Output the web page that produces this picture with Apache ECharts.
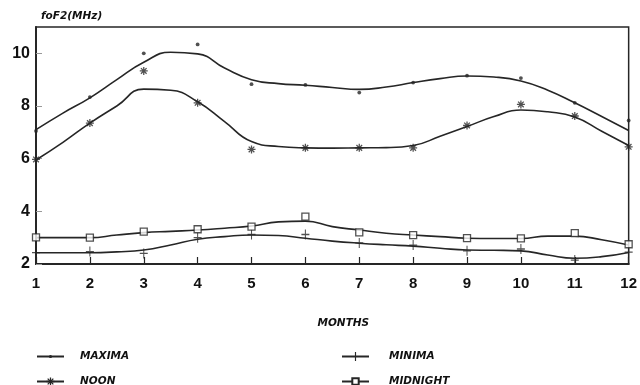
<!DOCTYPE html>
<html>
<head>
<meta charset="utf-8">
<script src="https://cdn.jsdelivr.net/npm/echarts@6/dist/echarts.min.js"></script>
<style>html,body{margin:0;padding:0;background:#fff}#c{width:640px;height:385px}</style>
</head>
<body>
<div id="c"></div>
<script>
// ---- data ----
const months = [1, 2, 3, 4, 5, 6, 7, 8, 9, 10, 11, 12];
const maximaObs   = [7.05, 8.34, 10.0, 10.34, 8.83, 8.8, 8.51, 8.89, 9.15, 9.06, 8.12, 7.45];
const noonObs     = [5.97, 7.35, 9.33, 8.12, 6.35, 6.41, 6.41, 6.41, 7.26, 8.06, 7.62, 6.45];
const minimaObs   = [2.43, 2.47, 2.4, 3.0, 3.12, 3.12, 2.8, 2.72, 2.5, 2.57, 2.15, 2.45];
const midnightObs = [3.01, 3.0, 3.23, 3.32, 3.42, 3.8, 3.2, 3.1, 2.98, 2.97, 3.17, 2.75];

// fitted curves, read at half-month steps
const curveMonths = [1, 1.5, 2, 2.5, 3, 3.5, 4, 4.5, 5, 5.5, 6, 6.5, 7, 7.5, 8, 8.5, 9, 9.5, 10, 10.5, 11, 11.5, 12];
const maximaCurve   = [7.1, 7.73, 8.31, 9.0, 9.66, 10.04, 9.98, 9.44, 9.0, 8.85, 8.79, 8.70, 8.63, 8.72, 8.89, 9.04, 9.14, 9.1, 8.95, 8.6, 8.12, 7.6, 7.07];
const noonCurve     = [5.95, 6.62, 7.35, 8.0, 8.64, 8.6, 8.16, 7.41, 6.65, 6.46, 6.41, 6.40, 6.41, 6.42, 6.5, 6.85, 7.22, 7.6, 7.85, 7.78, 7.58, 7.04, 6.5];
const minimaCurve   = [2.43, 2.43, 2.43, 2.46, 2.53, 2.72, 2.94, 3.04, 3.1, 3.08, 2.98, 2.87, 2.79, 2.73, 2.68, 2.6, 2.53, 2.52, 2.5, 2.34, 2.22, 2.28, 2.44];
const midnightCurve = [3.0, 3.0, 3.0, 3.1, 3.19, 3.24, 3.29, 3.36, 3.44, 3.6, 3.63, 3.42, 3.29, 3.17, 3.1, 3.04, 2.98, 2.97, 2.97, 3.06, 3.06, 2.92, 2.72];

const yTicks = [2, 4, 6, 8, 10];
const names = ['MAXIMA', 'NOON', 'MINIMA', 'MIDNIGHT'];

// ---- styling ----
const INK = '#262626';
const ASTER = 'path://M4.2,0H5.8V10H4.2Z M0,4.2H10V5.8H0Z M0.9,2.03L2.03,0.9L9.1,7.97L7.97,9.1Z M7.97,0.9L9.1,2.03L2.03,9.1L0.9,7.97Z';
const PLUS = 'path://M4.35,0H5.65V10H4.35Z M0,4.35H10V5.65H0Z';
const symbols = ['circle', ASTER, PLUS, 'rect'];
const symSizes = [3.8, 8, [8, 10], 7];
const obs = [maximaObs, noonObs, minimaObs, midnightObs];
const curves = [maximaCurve, noonCurve, minimaCurve, midnightCurve];

const pair = (xs, ys) => xs.map((x, i) => [x, ys[i]]);

const series = [];
names.forEach((n, k) => {
  series.push({
    name: n, type: 'line', smooth: 0.5, showSymbol: false,
    symbol: symbols[k], symbolSize: symSizes[k],
    data: pair(curveMonths, curves[k]),
    lineStyle: { color: INK, width: 1.6 },
    itemStyle: k === 3 ? { color: '#fff', borderColor: INK, borderWidth: 1.3 } : { color: INK },
    z: 3
  });
});
names.forEach((n, k) => {
  series.push({
    name: n, type: 'scatter', symbol: symbols[k], symbolSize: symSizes[k],
    data: pair(months, obs[k]),
    itemStyle: k === 3 ? { color: '#fff', borderColor: INK, borderWidth: 1.3 } : { color: INK },
    z: 4
  });
});

function legText(pad) {
  return { color: '#111', fontFamily: 'DejaVu Sans', fontStyle: 'italic', fontWeight: 'bold', fontSize: 10.5, padding: [0, 0, 0, pad] };
}
function leg(name, left, top, ih, pad) {
  return { data: [name], left: left, top: top, orient: 'horizontal', padding: 0, itemWidth: 27, itemHeight: ih,
    textStyle: legText(pad), selectedMode: false };
}

const chart = echarts.init(document.getElementById('c'), null, { renderer: 'canvas' });
chart.setOption({
  animation: false,
  backgroundColor: '#fff',
  title: { text: 'foF2(MHz)', left: 41, top: 11, padding: 0,
    textStyle: { fontFamily: 'DejaVu Sans', fontStyle: 'italic', fontWeight: 'bold', fontSize: 10.5, color: '#111' } },
  grid: { left: 36, right: 8, top: 27, bottom: 121, show: true, borderColor: INK, borderWidth: 1.5, backgroundColor: 'transparent' },
  xAxis: {
    type: 'value', min: 1, max: 12, interval: 1,
    name: 'MONTHS', nameLocation: 'middle', nameGap: 54,
    nameTextStyle: { fontFamily: 'DejaVu Sans', fontStyle: 'italic', fontWeight: 'bold', fontSize: 10.5, color: '#111', padding: [0, 0, 0, 22] },
    axisLine: { lineStyle: { color: INK, width: 2 } },
    axisTick: { inside: true, length: 7, lineStyle: { color: INK, width: 1.2 } },
    splitLine: { show: false },
    axisLabel: { margin: 12, fontFamily: 'Liberation Sans', fontWeight: 'bold', fontSize: 15, color: '#111',
      formatter: v => months.includes(v) ? String(v) : '' }
  },
  yAxis: {
    type: 'value', min: 2, max: 11, interval: 2,
    axisLine: { show: true, lineStyle: { color: INK, width: 2 } },
    axisTick: { inside: true, length: 6, lineStyle: { color: '#999', width: 1 } },
    splitLine: { show: false },
    axisLabel: { margin: 6, showMaxLabel: false, fontFamily: 'Liberation Sans', fontWeight: 'bold', fontSize: 16, color: '#111',
      formatter: v => yTicks.includes(v) ? String(v) : '' }
  },
  legend: [
    leg('MAXIMA', 36, 351, 4, 11),
    leg('NOON', 36, 376, 10, 11),
    leg('MINIMA', 341, 351, 11, 15),
    leg('MIDNIGHT', 341, 376, 8, 15)
  ],
  series: series
});
</script>
</body>
</html>
